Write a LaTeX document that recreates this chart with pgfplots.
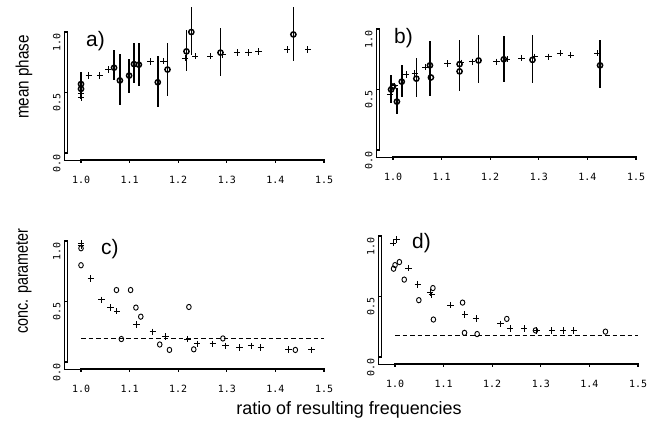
\documentclass[border=0pt]{standalone}
\usepackage{pgfplots}
\pgfplotsset{compat=1.18}
\usepackage{fontspec}
\setmainfont{Liberation Sans}
\newfontfamily\tickfont{DejaVu Sans Mono}

\pgfplotsset{
 panel/.style={
  scale only axis, width=260bp, height=128.26bp,
  xmin=0.965, xmax=1.5, ymin=-0.06, ymax=1.0,
  axis x line*=bottom, axis y line*=left,
  clip=false,
  xtick={1,1.1,1.2,1.3,1.4,1.5},
  xticklabels={1.0,1.1,1.2,1.3,1.4,1.5},
  ytick={0,0.5,1},
  yticklabels={0.0,0.5,1.0},
  major tick length=0bp,
  ticklabel style={font=\tickfont\fontsize{10}{10}\selectfont},
  yticklabel style={rotate=90, anchor=south, xshift=-10bp},
  xticklabel style={yshift=-12bp},
 },
 plus/.style={only marks, mark=+, mark size=3.2bp, mark options={line width=1pt}, black},
 circ/.style={only marks, mark=o, mark size=2.6bp, mark options={line width=1.5pt}, black,
   error bars/error bar style={line width=1.6pt, black}, error bars/error mark=none},
 ocirc/.style={only marks, mark=o, mark size=2.3bp, mark options={line width=0.9pt, yscale=1.15}, black},
 thresh/.style={black, line width=0.8pt, dash pattern=on 4.5bp off 3bp},
 axln/.style={black, line width=1.1pt, mark=none, forget plot},
 xtk/.style={black, only marks, mark=|, mark size=2.2bp, mark options={line width=1.1pt}, forget plot},
 ytk/.style={black, only marks, mark=-, mark size=2.2bp, mark options={line width=1.1pt}, forget plot},
}
\newcommand{\axdeco}{%
  \addplot[axln] coordinates {(1,-0.05)(1.5,-0.05)};
  \addplot[axln] coordinates {(0.973,0)(0.973,1)};
  \addplot[xtk] coordinates {(1,-0.068)(1.1,-0.068)(1.2,-0.068)(1.3,-0.068)(1.4,-0.068)(1.5,-0.068)};
  \addplot[ytk] coordinates {(0.9685,0)(0.9685,0.5)(0.9685,1)};
}

\begin{document}
\begin{tikzpicture}
\path[use as bounding box] (0bp,0bp) rectangle (663bp,429bp);

% panel a
\begin{axis}[panel, at={(64bp,268.7bp)}, anchor=south west]
\axdeco
\addplot[plus] coordinates {
(1.000,0.49)(1.000,0.46)(1.016,0.64)(1.039,0.64)(1.056,0.69)(1.143,0.755)
(1.170,0.76)(1.214,0.785)(1.235,0.80)(1.266,0.80)(1.292,0.815)(1.321,0.83)
(1.345,0.83)(1.365,0.84)(1.424,0.855)(1.467,0.855)};
\addplot[circ, error bars/.cd, y dir=both, y explicit] table[x=x, y=y, y error plus=ep, y error minus=em] {
x y ep em
1.000 0.57 0.10 0.12
1.000 0.53 0.14 0.08
1.068 0.705 0.145 0.105
1.080 0.60 0.22 0.20
1.099 0.64 0.14 0.14
1.109 0.735 0.175 0.155
1.119 0.73 0.18 0.18
1.158 0.585 0.215 0.205
1.178 0.69 0.22 0.22
1.217 0.84 0.18 0.16
1.227 1.00 0.21 0.19
1.287 0.83 0.20 0.19
1.437 0.98 0.23 0.22
};
\end{axis}

% panel b
\begin{axis}[panel, at={(376bp,271.7bp)}, anchor=south west]
\axdeco
\addplot[plus] coordinates {
(0.994,0.46)(1.003,0.53)(1.027,0.625)(1.045,0.635)(1.067,0.685)(1.112,0.715)
(1.140,0.72)(1.163,0.73)(1.213,0.73)(1.235,0.75)(1.264,0.76)(1.292,0.77)
(1.320,0.77)(1.344,0.80)(1.366,0.785)(1.421,0.80)};
\addplot[circ, error bars/.cd, y dir=both, y explicit] table[x=x, y=y, y error plus=ep, y error minus=em] {
x y ep em
0.996 0.50 0.12 0.11
1.000 0.525 0 0
1.008 0.40 0.11 0.10
1.018 0.565 0.135 0.125
1.048 0.59 0.17 0.15
1.076 0.70 0.20 0.25
1.078 0.60 0 0
1.137 0.71 0.20 0.22
1.137 0.65 0 0
1.176 0.74 0.21 0.19
1.228 0.75 0.19 0.19
1.287 0.745 0.205 0.19
1.426 0.70 0.21 0.19
};
\end{axis}

% panel c
\begin{axis}[panel, at={(64bp,59.7bp)}, anchor=south west]
\axdeco
\addplot[thresh] coordinates {(1.0,0.195)(1.5,0.195)};
\addplot[plus] coordinates {
(1.0,0.98)(1.0,0.96)(1.020,0.69)(1.042,0.515)(1.061,0.45)(1.074,0.42)(1.114,0.31)
(1.148,0.25)(1.174,0.21)(1.219,0.19)(1.239,0.15)(1.271,0.15)(1.297,0.135)
(1.326,0.12)(1.350,0.135)(1.370,0.12)(1.427,0.105)(1.474,0.10)};
\addplot[ocirc] coordinates {
(1.0,0.94)(1.0,0.80)(1.073,0.595)(1.083,0.19)(1.102,0.595)(1.113,0.45)(1.123,0.375)
(1.162,0.145)(1.182,0.10)(1.222,0.455)(1.232,0.105)(1.292,0.195)(1.441,0.10)};
\end{axis}

% panel d
\begin{axis}[panel, at={(378bp,64.7bp)}, anchor=south west]
\axdeco
\addplot[thresh] coordinates {(1.0,0.176)(1.5,0.176)};
\addplot[plus] coordinates {
(0.996,0.94)(1.003,0.97)(1.028,0.735)(1.047,0.60)(1.072,0.535)(1.076,0.515)
(1.114,0.43)(1.144,0.35)(1.167,0.32)(1.217,0.275)(1.237,0.235)(1.266,0.235)
(1.292,0.22)(1.323,0.22)(1.346,0.22)(1.368,0.22)};
\addplot[ocirc] coordinates {
(0.997,0.73)(1.0,0.76)(1.009,0.785)(1.019,0.64)(1.049,0.47)(1.078,0.57)(1.079,0.31)
(1.139,0.45)(1.143,0.20)(1.169,0.19)(1.230,0.315)(1.289,0.22)(1.433,0.21)};
\end{axis}

% panel letters
\node[anchor=west, inner sep=0pt, font=\fontsize{21}{21}\selectfont] at (86bp,388bp) {a)};
\node[anchor=west, inner sep=0pt, font=\fontsize{21}{21}\selectfont] at (394bp,391bp) {b)};
\node[anchor=west, inner sep=0pt, font=\fontsize{21}{21}\selectfont] at (101bp,180bp) {c)};
\node[anchor=west, inner sep=0pt, font=\fontsize{21}{21}\selectfont] at (412bp,186bp) {d)};

% axis titles
\node[rotate=90, inner sep=0pt, font=\fontsize{18}{18}\selectfont] at (24bp,352bp) {\scalebox{0.85}[1]{mean phase}};
\node[rotate=90, inner sep=0pt, font=\fontsize{18}{18}\selectfont] at (24bp,148bp) {\scalebox{0.8}[1]{conc. parameter}};
\node[inner sep=0pt, font=\fontsize{18}{18}\selectfont] at (349bp,19bp) {ratio of resulting frequencies};
\end{tikzpicture}
\end{document}
